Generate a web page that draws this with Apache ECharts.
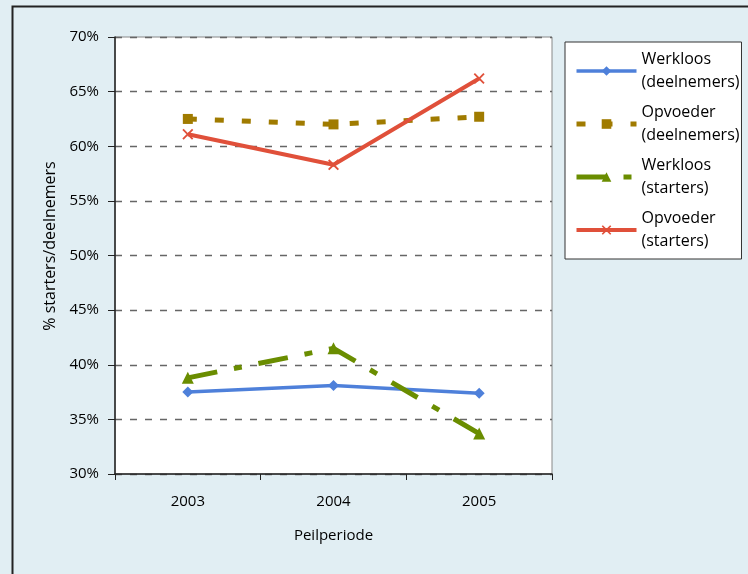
<!DOCTYPE html>
<html><head><meta charset="utf-8">
<script src="https://cdn.jsdelivr.net/npm/echarts@6/dist/echarts.min.js"></script>
<style>html,body{margin:0;padding:0;background:#e1eef3;}#c{width:748px;height:574px;}</style>
</head><body><div id="c"></div>
<script>
const categories = ['2003', '2004', '2005'];
const werkloosDeelnemers = [37.5, 38.1, 37.4];
const opvoederDeelnemers = [62.5, 62.0, 62.7];
const werkloosStarters = [38.8, 41.5, 33.7];
const opvoederStarters = [61.1, 58.3, 66.2];
const seriesNames = ['Werkloos\n(deelnemers)', 'Opvoeder\n(deelnemers)', 'Werkloos\n(starters)', 'Opvoeder\n(starters)'];

const FONT = '"Open Sans", Lato, sans-serif';
const xPath = 'path://M0,1.2L1.2,0L5,3.8L8.8,0L10,1.2L6.2,5L10,8.8L8.8,10L5,6.2L1.2,10L0,8.8L3.8,5Z';

const chart = echarts.init(document.getElementById('c'));
chart.setOption({
  backgroundColor: '#e1eef3',
  animation: false,
  graphic: [{
    type: 'rect', left: 10, top: 4, z: -1,
    shape: { width: 760, height: 600 },
    style: { fill: 'none', stroke: '#222', lineWidth: 2 }
  }],
  grid: {
    left: 115, top: 37, width: 437, height: 437,
    show: true, backgroundColor: '#fff', borderColor: '#888', borderWidth: 1
  },
  legend: {
    orient: 'vertical', left: 565, top: 42,
    backgroundColor: '#fff', borderColor: '#333', borderWidth: 1,
    padding: [6, 2, 6, 9], itemGap: 7, itemWidth: 60, itemHeight: 12,
    lineStyle: { width: 'inherit', type: 'inherit' },
    textStyle: { fontFamily: FONT, fontSize: 16, color: '#000', lineHeight: 23 },
    data: seriesNames
  },
  xAxis: {
    type: 'category', data: categories, boundaryGap: true,
    name: 'Peilperiode', nameLocation: 'middle', nameGap: 54,
    nameTextStyle: { fontFamily: FONT, fontSize: 15, color: '#000' },
    axisLine: { lineStyle: { color: '#222', width: 1.5 } },
    axisTick: { show: true, length: 6, lineStyle: { color: '#222' } },
    axisLabel: { fontFamily: FONT, fontSize: 15, color: '#000', margin: 20 }
  },
  yAxis: {
    type: 'value', min: 30, max: 70, interval: 5,
    name: '% starters/deelnemers', nameLocation: 'middle', nameGap: 57,
    nameTextStyle: { fontFamily: FONT, fontSize: 16, color: '#000', padding: [0, 0, 0, 19] },
    axisLine: { show: true, lineStyle: { color: '#222', width: 1.5 } },
    axisTick: { show: true, length: 7, lineStyle: { color: '#222' } },
    axisLabel: { fontFamily: FONT, fontSize: 15, color: '#000', margin: 16, formatter: '{value}%' },
    splitLine: { show: true, lineStyle: { color: '#666', type: [7, 8], width: 1.3 } }
  },
  series: [
    {
      name: seriesNames[0], type: 'line', data: werkloosDeelnemers,
      symbol: 'diamond', symbolSize: 11,
      itemStyle: { color: '#4e80da' },
      lineStyle: { color: '#4e80da', width: 3.5 }
    },
    {
      name: seriesNames[1], type: 'line', data: opvoederDeelnemers,
      symbol: 'rect', symbolSize: 10,
      itemStyle: { color: '#a07b00' },
      lineStyle: { color: '#a07b00', width: 5, type: [9, 18] }
    },
    {
      name: seriesNames[2], type: 'line', data: werkloosStarters,
      symbol: 'triangle', symbolSize: 12,
      itemStyle: { color: '#6a8d00' },
      lineStyle: { color: '#6a8d00', width: 5, type: [30, 17, 8, 17] }
    },
    {
      name: seriesNames[3], type: 'line', data: opvoederStarters,
      symbol: xPath, symbolSize: 11,
      itemStyle: { color: '#e0503a' },
      lineStyle: { color: '#e0503a', width: 4 }
    }
  ]
});
</script></body></html>
